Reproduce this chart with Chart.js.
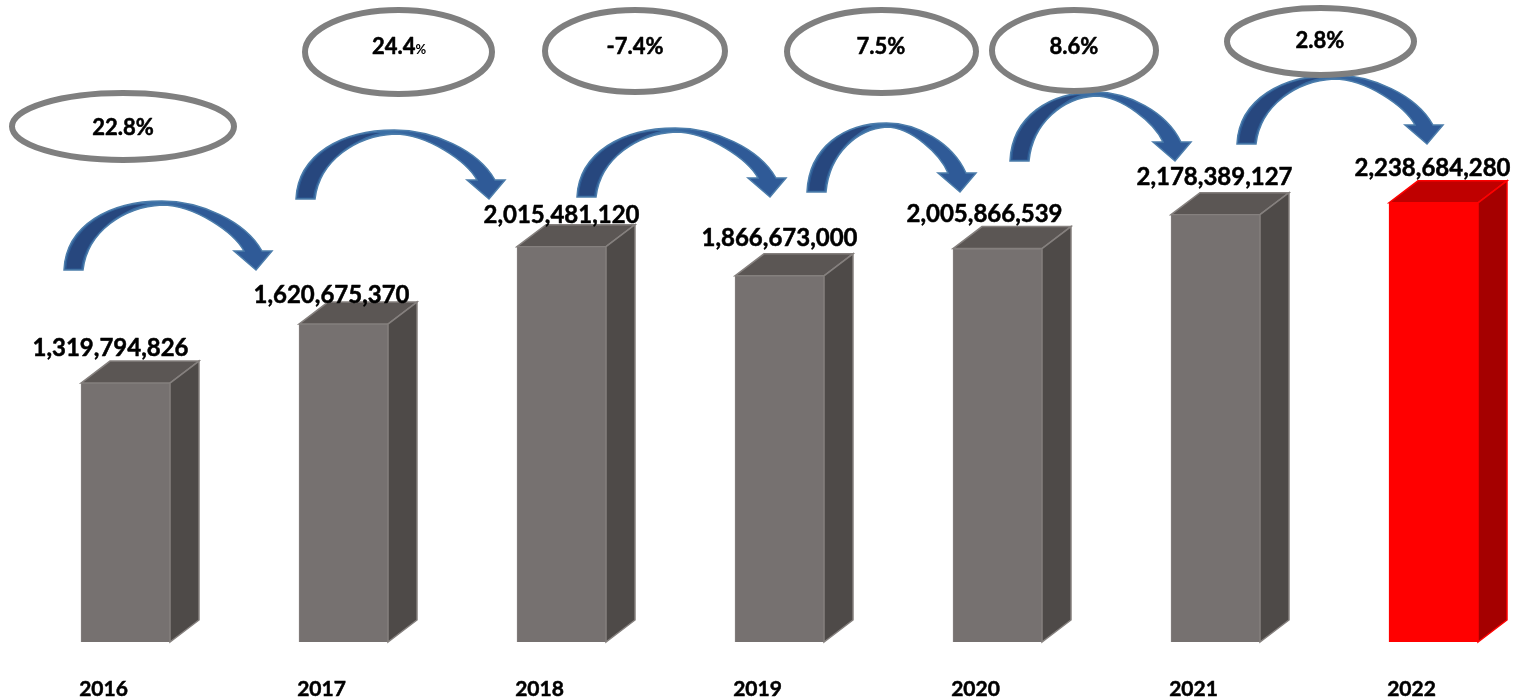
<!DOCTYPE html>
<html>
<head>
<meta charset="utf-8">
<style>
  html, body { margin: 0; padding: 0; background: #fff; overflow: hidden; }
  #wrap { width: 1517px; height: 700px; }
</style>
<script src="https://cdn.jsdelivr.net/npm/chart.js@4"></script>
</head>
<body>
<div id="wrap"><canvas id="chart"></canvas></div>
<script>
const years = ['2016', '2017', '2018', '2019', '2020', '2021', '2022'];
const totals = [1319794826, 1620675370, 2015481120, 1866673000, 2005866539, 2178389127, 2238684280];
const growth = ['22.8%', '24.4', '-7.4%', '7.5%', '8.6%', '2.8%'];

// hand placed in the original slide, so placed by hand here too
const labelShift = [[-15, -35], [-12, -29], [0, -31], [0, -38], [-13, -34], [-1, -37], [-1, -35]];
const arrowBoxes = [
  [64, 201, 208, 69], [296, 130, 209, 69], [577, 128, 209, 69],
  [807, 123, 169, 69], [1010, 92, 181, 69], [1237, 75, 206, 69],
];
const ovals = [
  [123, 126.5, 111, 33.5], [398.5, 52, 93.5, 42], [635, 51, 90, 41],
  [881.5, 51.5, 94.5, 41.5], [1074, 50.5, 82, 40.5], [1320.5, 41.5, 93.5, 33.5],
];
const ovalText = [[123, 128], [399, 47], [635, 47], [881, 47], [1074, 47], [1320, 41]];

const FONT = 'Lato, "Noto Sans", sans-serif';
const isLast = (i) => i === totals.length - 1;

function drawArrow(ctx, [x, y, w, h]) {
  const bottom = y + h;
  const right = x + w;
  const neck = bottom - 19;
  const crown = x + w * 0.47;
  const outerEnd = right - 10;
  const innerEnd = right - 28;
  const leftSpan = crown - x;
  const innerSpan = crown - x - 19;
  const rise = neck - y;
  ctx.beginPath();
  ctx.moveTo(x, bottom);
  ctx.bezierCurveTo(x + 2, y + h * 0.35, crown - leftSpan * 0.53, y, crown, y);
  ctx.bezierCurveTo(crown + (outerEnd - crown) * 0.38, y, outerEnd - (outerEnd - crown) * 0.17, y + rise * 0.39, outerEnd, neck);
  ctx.lineTo(right, neck);
  ctx.lineTo(right - 16, bottom);
  ctx.lineTo(right - 38, neck);
  ctx.lineTo(innerEnd, neck);
  ctx.bezierCurveTo(innerEnd - (innerEnd - crown) * 0.12, y + rise * 0.63, crown + (innerEnd - crown) * 0.4, y + 4, crown, y + 4);
  ctx.bezierCurveTo(crown - innerSpan * 0.47, y + 6, x + 19 + innerSpan * 0.06, y + h * 0.43, x + 19, bottom);
  ctx.closePath();
  const fill = ctx.createLinearGradient(x, 0, right, 0);
  fill.addColorStop(0, '#2c5a94');
  fill.addColorStop(0.45, '#3c70a6');
  fill.addColorStop(0.62, '#2f5a97');
  fill.addColorStop(1, '#2f5a97');
  ctx.fillStyle = fill;
  ctx.strokeStyle = '#4c7dab';
  ctx.lineWidth = 1.5;
  ctx.fill();
  ctx.stroke();
  // darker underside of the ribbon, from the tail up to the crown
  ctx.beginPath();
  ctx.moveTo(x + 2.5, bottom - 1.5);
  ctx.bezierCurveTo(x + 4.5, y + h * 0.37, crown - leftSpan * 0.5, y + 3, crown - 14, y + 3);
  ctx.bezierCurveTo(crown - innerSpan * 0.47, y + 7, x + 17 + innerSpan * 0.06, y + h * 0.45, x + 17, bottom - 1.5);
  ctx.closePath();
  ctx.fillStyle = '#27477e';
  ctx.fill();
}

const slidePlugin = {
  id: 'slideShapes',
  beforeDatasetsDraw(chart) {
    const ctx = chart.ctx;
    const bars = chart.getDatasetMeta(0).data;
    const depthX = 29, depthY = 22;
    bars.forEach((bar, i) => {
      const left = bar.x - bar.width / 2;
      const right = bar.x + bar.width / 2;
      const red = isLast(i);
      ctx.save();
      ctx.lineWidth = 1.5;
      ctx.strokeStyle = red ? '#ff0000' : '#85807e';
      // top face
      ctx.beginPath();
      ctx.moveTo(left, bar.y);
      ctx.lineTo(left + depthX, bar.y - depthY);
      ctx.lineTo(right + depthX, bar.y - depthY);
      ctx.lineTo(right, bar.y);
      ctx.closePath();
      ctx.fillStyle = red ? '#bf0000' : '#5b5654';
      ctx.fill();
      ctx.stroke();
      // side face
      ctx.beginPath();
      ctx.moveTo(right, bar.y);
      ctx.lineTo(right + depthX, bar.y - depthY);
      ctx.lineTo(right + depthX, bar.base - depthY);
      ctx.lineTo(right, bar.base);
      ctx.closePath();
      ctx.fillStyle = red ? '#a50000' : '#4e4a48';
      ctx.fill();
      ctx.stroke();
      ctx.restore();
    });
  },
  afterDatasetsDraw(chart) {
    const ctx = chart.ctx;
    const bars = chart.getDatasetMeta(0).data;
    ctx.save();
    arrowBoxes.forEach((box) => drawArrow(ctx, box));

    ctx.textBaseline = 'middle';
    ctx.textAlign = 'center';
    ctx.lineJoin = 'round';
    ctx.fillStyle = '#000';
    ctx.strokeStyle = '#000';
    ctx.lineWidth = 0.5;
    ctx.font = 'bold 24px ' + FONT;
    bars.forEach((bar, i) => {
      const [dx, dy] = labelShift[i];
      const text = totals[i].toLocaleString('en-US');
      ctx.strokeText(text, bar.x + dx, bar.y + dy);
      ctx.fillText(text, bar.x + dx, bar.y + dy);
    });

    ovals.forEach(([cx, cy, rx, ry], i) => {
      ctx.beginPath();
      ctx.ellipse(cx, cy, rx, ry, 0, 0, Math.PI * 2);
      ctx.fillStyle = '#fff';
      ctx.fill();
      ctx.lineWidth = 6;
      ctx.strokeStyle = '#7f7f7f';
      ctx.stroke();

      const [tx, ty] = ovalText[i];
      ctx.fillStyle = '#000';
      ctx.strokeStyle = '#000';
      ctx.lineWidth = 0.5;
      ctx.font = 'bold 22px ' + FONT;
      if (growth[i].endsWith('%')) {
        ctx.strokeText(growth[i], tx, ty);
        ctx.fillText(growth[i], tx, ty);
      } else {
        // this one has a small percent sign in the original
        ctx.textAlign = 'left';
        const w = ctx.measureText(growth[i]).width;
        ctx.strokeText(growth[i], tx - 27, ty);
        ctx.fillText(growth[i], tx - 27, ty);
        ctx.font = 'bold 13px ' + FONT;
        ctx.fillText('%', tx - 27 + w, ty + 3);
        ctx.textAlign = 'center';
      }
    });
    ctx.restore();
  },
};

new Chart(document.getElementById('chart'), {
  type: 'bar',
  data: {
    labels: years,
    datasets: [{
      data: totals,
      barThickness: 89,
      clip: false,
      backgroundColor: totals.map((v, i) => (isLast(i) ? '#ff0000' : '#767170')),
      borderColor: totals.map((v, i) => (isLast(i) ? '#ff0000' : '#85807e')),
      borderWidth: 1,
    }],
  },
  options: {
    responsive: true,
    maintainAspectRatio: false,
    animation: false,
    layout: { padding: { left: 125.5, right: 83.5, top: 151.6, bottom: 0 } },
    plugins: { legend: { display: false }, tooltip: { enabled: false } },
    scales: {
      x: {
        offset: false,
        afterFit(scale) { scale.height = 58; },
        grid: { display: false },
        border: { display: false },
        ticks: {
          maxRotation: 0,
          autoSkip: false,
          labelOffset: -22,
          padding: 27,
          color: '#000',
          textStrokeColor: '#000',
          textStrokeWidth: 0.5,
          font: { family: FONT, size: 21, weight: 'bold' },
        },
      },
      y: { display: false, min: 0, max: 2500000000 },
    },
  },
  plugins: [slidePlugin],
});
</script>
</body>
</html>
